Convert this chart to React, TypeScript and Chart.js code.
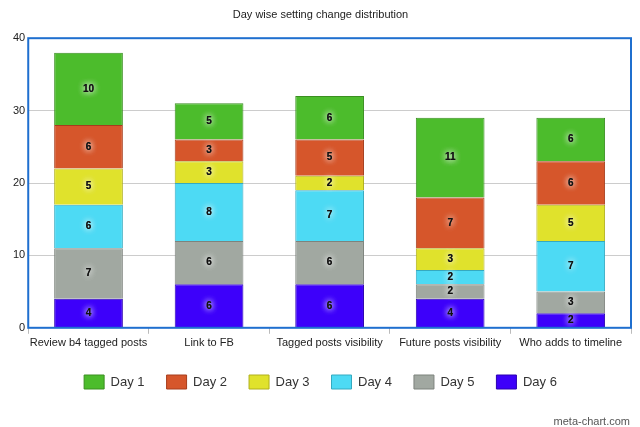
import React, { useEffect, useRef } from "react";
import { Chart, registerables } from "chart.js";
Chart.register(...registerables);

const categories = ["Review b4 tagged posts", "Link to FB", "Tagged posts visibility", "Future posts visibility", "Who adds to timeline"];
const day1 = [10, 5, 6, 11, 6];
const day2 = [6, 3, 5, 7, 6];
const day3 = [5, 3, 2, 3, 5];
const day4 = [6, 8, 7, 2, 7];
const day5 = [7, 6, 6, 2, 3];
const day6 = [4, 6, 6, 4, 2];
const seriesNames = ["Day 1", "Day 2", "Day 3", "Day 4", "Day 5", "Day 6"];
const colors = ["#4cbc2c", "#d6562b", "#e0e22c", "#4ddaf4", "#a1a8a1", "#3d00fa"];
const borders = ["#3a8f20", "#a63d1c", "#b0b01c", "#35aac0", "#7d837d", "#2a00b0"];

const labelPlugin = {
  id: "lbl",
  afterDatasetsDraw(chart: any) {
    const ctx = chart.ctx;
    ctx.save();
    ctx.font = "bold 10px 'Liberation Sans'";
    ctx.textAlign = "center";
    ctx.textBaseline = "middle";
    chart.data.datasets.forEach((ds: any, i: number) => {
      chart.getDatasetMeta(i).data.forEach((bar: any, j: number) => {
        const y = (bar.y + bar.base) / 2;
        ctx.shadowColor = "rgba(255,255,255,0.95)";
        ctx.shadowBlur = 6;
        ctx.fillStyle = "#111";
        ctx.fillText(String(ds.data[j]), bar.x, y);
        ctx.fillText(String(ds.data[j]), bar.x, y);
      });
    });
    ctx.restore();
  },
};

const borderPlugin = {
  id: "areaBorder",
  afterDraw(chart: any) {
    const { ctx, chartArea: a } = chart;
    ctx.save();
    ctx.strokeStyle = "#1f6fcf";
    ctx.lineWidth = 2;
    ctx.strokeRect(a.left, a.top, a.right - a.left, a.bottom - a.top);
    ctx.fillStyle = "#555";
    ctx.font = "11px 'Liberation Sans'";
    ctx.textAlign = "right";
    ctx.fillText("meta-chart.com", 630, 422);
    ctx.restore();
  },
};

export default function App() {
  const ref = useRef<HTMLCanvasElement>(null);
  useEffect(() => {
    const all = [day1, day2, day3, day4, day5, day6];
    const datasets = [5, 4, 3, 2, 1, 0].map((i) => ({
      label: seriesNames[i],
      data: all[i],
      backgroundColor: colors[i],
      borderColor: borders[i],
      borderWidth: 1,
      barPercentage: 0.57,
      categoryPercentage: 1,
    }));
    const chart = new Chart(ref.current!, {
      type: "bar",
      data: { labels: categories, datasets },
      options: {
        animation: false,
        responsive: false,
        layout: { padding: { left: 10, right: 9, top: 0, bottom: 28 } },
        plugins: {
          title: { display: true, text: "Day wise setting change distribution", color: "#222", font: { family: "Liberation Sans", size: 11, weight: "normal" }, padding: { top: 8, bottom: 17 } },
          legend: {
            position: "bottom",
            reverse: true,
            labels: { boxWidth: 20, boxHeight: 14, padding: 22, color: "#333", font: { family: "Liberation Sans", size: 13 } },
          },
          tooltip: { enabled: false },
        },
        scales: {
          x: {
            stacked: true,
            grid: { display: true, drawOnChartArea: false, color: "#bbb", tickLength: 6 },
            ticks: { color: "#222", maxRotation: 0, autoSkip: false, font: { family: "Liberation Sans", size: 11 } },
          },
          y: {
            stacked: true,
            min: 0,
            max: 40,
            ticks: { stepSize: 10, color: "#222", font: { family: "Liberation Sans", size: 11 } },
            grid: { color: "#ccc", drawTicks: false },
            border: { display: false },
          },
        },
      },
      plugins: [labelPlugin, borderPlugin],
    });
    return () => chart.destroy();
  }, []);
  return <canvas ref={ref} width={640} height={427} style={{ position: "absolute", left: 0, top: 0 }} />;
}
